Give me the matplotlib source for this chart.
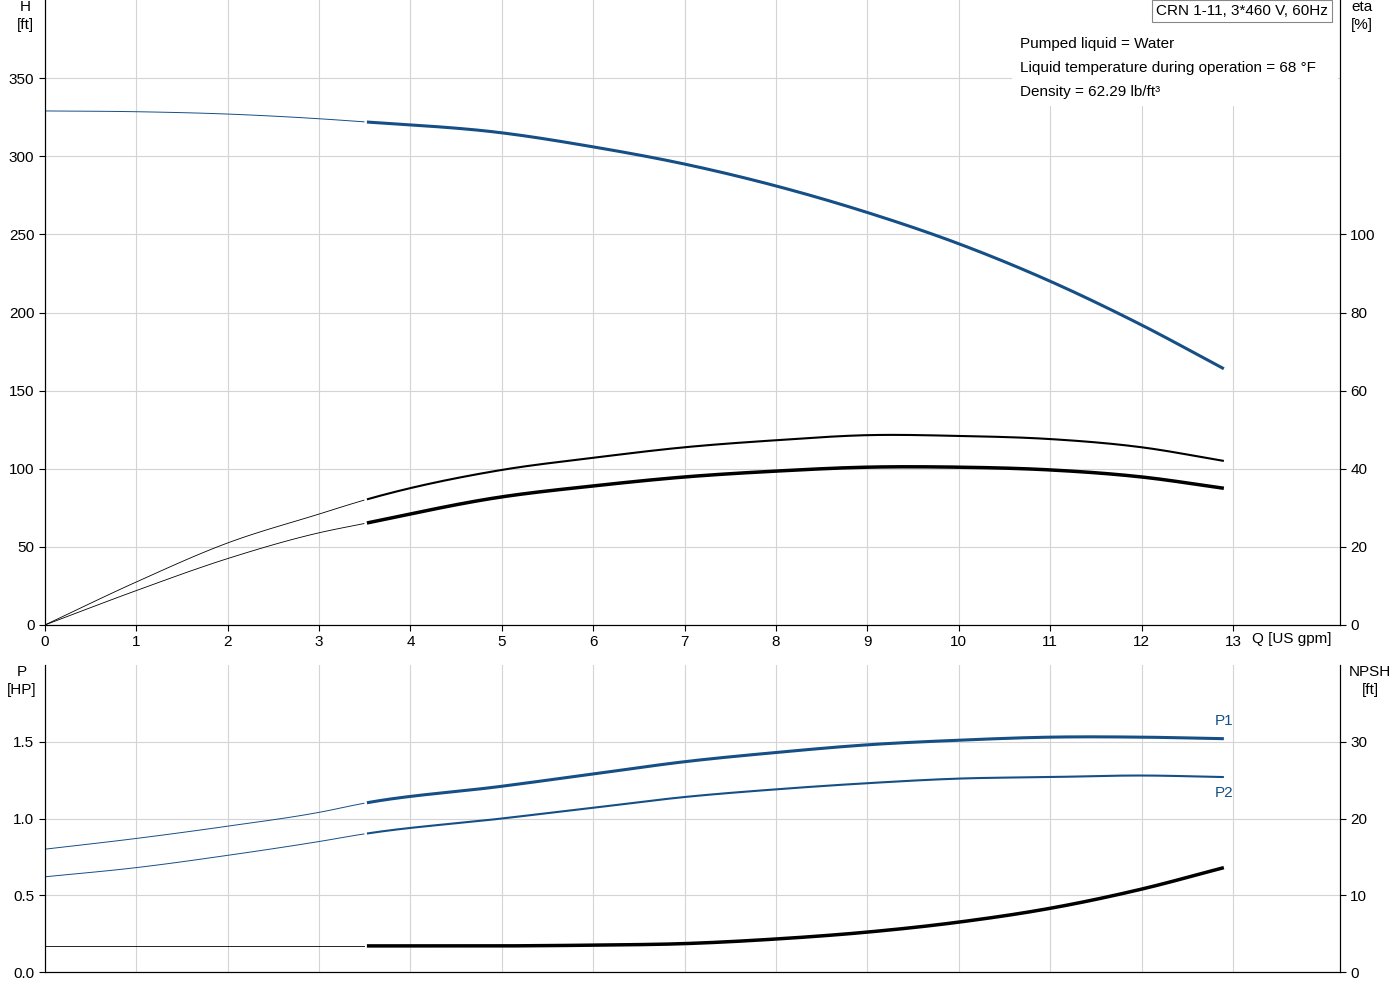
import numpy as np
import matplotlib
matplotlib.use("Agg")
import matplotlib.pyplot as plt
from matplotlib.patches import Rectangle

plt.rcParams['font.family'] = ['Liberation Sans', 'DejaVu Sans']

q = [0, 1, 2, 3, 3.5, 5, 6, 7, 8, 9, 10, 11, 12, 12.9]
head = [329, 328.5, 327, 324, 322, 315, 306, 295, 281, 264, 244, 220, 192, 164]
eta_a = [0, 11, 21, 28.4, 32, 39.7, 42.8, 45.5, 47.3, 48.6, 48.4, 47.6, 45.5, 42]
eta_b = [0, 8.8, 17, 23.6, 26, 32.8, 35.6, 37.9, 39.4, 40.4, 40.4, 39.7, 37.9, 35]
p1 = [0.80, 0.87, 0.95, 1.04, 1.10, 1.21, 1.29, 1.37, 1.43, 1.48, 1.51, 1.53, 1.53, 1.52]
p2 = [0.62, 0.68, 0.76, 0.85, 0.90, 1.00, 1.07, 1.14, 1.19, 1.23, 1.26, 1.27, 1.28, 1.27]
npsh = [3.4, 3.4, 3.4, 3.4, 3.4, 3.4, 3.5, 3.7, 4.3, 5.2, 6.5, 8.3, 10.8, 13.6]

BLUE = '#154f85'
GRID = '#d4d4d4'
Q = np.array(q, float)
Q_SPLIT = 3.5

def smooth(x, y, n=400):
    """Cubic Hermite curve through the given points (rendering only)."""
    x = np.asarray(x, float); y = np.asarray(y, float)
    m = np.gradient(y, x)
    xs = np.linspace(x[0], x[-1], n)
    idx = np.clip(np.searchsorted(x, xs) - 1, 0, len(x) - 2)
    h = x[idx + 1] - x[idx]
    t = (xs - x[idx]) / h
    h00 = 2*t**3 - 3*t**2 + 1; h10 = t**3 - 2*t**2 + t
    h01 = -2*t**3 + 3*t**2; h11 = t**3 - t**2
    ys = h00*y[idx] + h10*h*m[idx] + h01*y[idx+1] + h11*h*m[idx+1]
    return xs, ys

def draw(ax, y, color, lw_thin, lw_thick):
    xs, ys = smooth(Q, y)
    a = xs <= Q_SPLIT
    b = xs >= Q_SPLIT
    ax.plot(xs[a], ys[a], color=color, lw=lw_thin)
    ax.plot(xs[b], ys[b], color=color, lw=lw_thick, solid_capstyle='butt')

fig = plt.figure(figsize=(14, 10), dpi=100)
xmax = (1340 - 45) / 91.4

ax1 = fig.add_axes([0.032, 0.375, 0.925, 0.625])
ax1.set_xlim(0, xmax); ax1.set_ylim(0, 400)
ax1.set_xticks(range(0, 14)); ax1.set_yticks(range(0, 351, 50))
ax1.grid(True, color=GRID, lw=0.8)
ax1.spines['top'].set_visible(False)
for s in ['left', 'bottom', 'right']:
    ax1.spines[s].set_linewidth(0.8)
ax1.tick_params(labelsize=11, length=4, width=0.8)
draw(ax1, head, BLUE, 0.7, 2.2)
ax1e = ax1.twinx()
ax1e.set_ylim(0, 160)
ax1e.set_yticks(range(0, 101, 20))
ax1e.spines['top'].set_visible(False)
ax1e.tick_params(labelsize=11, length=4, width=0.8)
draw(ax1e, eta_a, 'black', 0.6, 1.5)
draw(ax1e, eta_b, 'black', 0.6, 2.5)
fig.text(25/1400, 1-7/1000, 'H', ha='center', va='center', fontsize=11)
fig.text(25/1400, 1-25/1000, '[ft]', ha='center', va='center', fontsize=11)
fig.text(1362/1400, 1-7/1000, 'eta', ha='center', va='center', fontsize=11)
fig.text(1362/1400, 1-25/1000, '[%]', ha='center', va='center', fontsize=11)
fig.text(1292/1400, 1-639/1000, 'Q [US gpm]', ha='center', va='center', fontsize=11)
fig.patches.append(Rectangle((1012/1400, 1-106/1000), 326/1400, 106/1000,
                             transform=fig.transFigure, facecolor='white', edgecolor='none', zorder=3))
fig.text(1242/1400, 1-11/1000, 'CRN 1-11, 3*460 V, 60Hz', ha='center', va='center', fontsize=11,
         bbox=dict(facecolor='white', edgecolor='#888888', pad=3, lw=0.8), zorder=4)
for i, t in enumerate(['Pumped liquid = Water', 'Liquid temperature during operation = 68 °F', 'Density = 62.29 lb/ft³']):
    fig.text(1020/1400, 1-(44+24*i)/1000, t, ha='left', va='center', fontsize=11, zorder=4)

ax2 = fig.add_axes([0.032, 0.028, 0.925, 0.307])
ax2.set_xlim(0, xmax); ax2.set_ylim(0, 2.0)
ax2.set_xticks(range(0, 14)); ax2.set_xticklabels([])
ax2.tick_params(axis='x', length=0)
ax2.set_yticks([0, 0.5, 1.0, 1.5]); ax2.set_yticklabels(['0.0', '0.5', '1.0', '1.5'])
ax2.grid(True, color=GRID, lw=0.8)
ax2.spines['top'].set_visible(False)
ax2.tick_params(axis='y', labelsize=11, length=4, width=0.8)
draw(ax2, p1, BLUE, 0.7, 2.2)
draw(ax2, p2, BLUE, 0.7, 1.5)
ax2.text(12.9, p1[-1] + 0.07, 'P1', color=BLUE, fontsize=11, ha='center', va='bottom')
ax2.text(12.9, p2[-1] - 0.06, 'P2', color=BLUE, fontsize=11, ha='center', va='top')
ax2n = ax2.twinx()
ax2n.set_ylim(0, 40)
ax2n.set_yticks([0, 10, 20, 30])
ax2n.spines['top'].set_visible(False)
ax2n.tick_params(labelsize=11, length=4, width=0.8)
draw(ax2n, npsh, 'black', 0.6, 2.5)
fig.text(22/1400, 1-672/1000, 'P', ha='center', va='center', fontsize=11)
fig.text(22/1400, 1-690/1000, '[HP]', ha='center', va='center', fontsize=11)
fig.text(1370/1400, 1-672/1000, 'NPSH', ha='center', va='center', fontsize=11)
fig.text(1370/1400, 1-690/1000, '[ft]', ha='center', va='center', fontsize=11)

fig.savefig('out.png', dpi=100)
